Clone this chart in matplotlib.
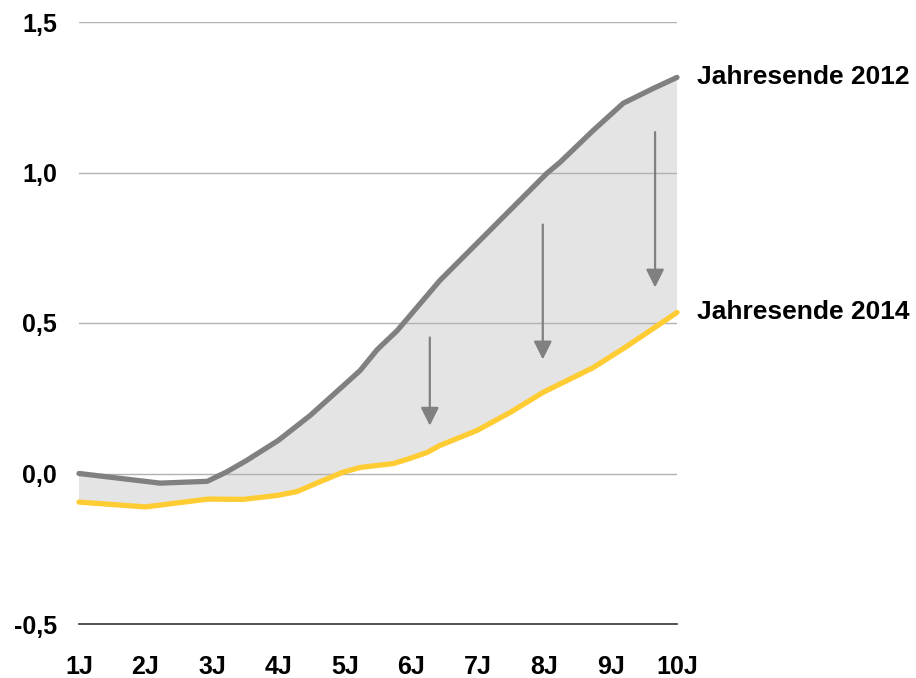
import matplotlib

matplotlib.use("Agg")
import matplotlib.pyplot as plt

plt.rcParams["font.family"] = ["Liberation Sans", "DejaVu Sans"]
plt.rcParams["font.weight"] = "bold"

# Laufzeit in Jahren und Renditen (%)
yrs_2012 = [1.0, 1.5, 2.22, 2.93, 3.22, 3.52, 4.0, 4.48, 5.0, 5.23, 5.49, 5.79,
            6.43, 8.04, 8.24, 8.74, 9.19, 9.64, 10.0]
val_2012 = [0.000, -0.013, -0.032, -0.026, 0.005, 0.043, 0.11, 0.193, 0.296,
            0.342, 0.412, 0.475, 0.641, 0.997, 1.034, 1.140, 1.230, 1.279, 1.316]

yrs_2014 = [1.0, 2.0, 2.94, 3.47, 3.98, 4.28, 4.63, 4.97, 5.23, 5.73, 5.98,
            6.24, 6.43, 6.99, 7.49, 7.98, 8.74, 9.22, 10.0]
val_2014 = [-0.095, -0.111, -0.085, -0.086, -0.073, -0.060, -0.027, 0.004, 0.020,
            0.033, 0.050, 0.070, 0.093, 0.143, 0.203, 0.269, 0.352, 0.419, 0.535]

# Pfeile: (x, Start, Spitze)
arrow_x = [6.28, 7.98, 9.67]
arrow_top = [0.452, 0.827, 1.134]
arrow_tip = [0.159, 0.379, 0.618]

xticks = list(range(1, 11))
xlabels = [f"{i}J" for i in xticks]
yticks = [-0.5, 0.0, 0.5, 1.0, 1.5]
ylabels = ["-0,5", "0,0", "0,5", "1,0", "1,5"]

GRAY = "#808080"
YELLOW = "#FFCC33"

fig = plt.figure(figsize=(9.16, 6.78), dpi=100)
ax = fig.add_axes([79 / 916, 54 / 678, 598 / 916, 602 / 678])

# Fläche zwischen den Kurven
poly_x = yrs_2012 + yrs_2014[::-1]
poly_y = val_2012 + val_2014[::-1]
ax.fill(poly_x, poly_y, color="#E4E4E4", lw=0, zorder=1)

for yv in yticks[1:]:
    ax.axhline(yv, color="#B2B2B2", lw=1.0, zorder=2)

ax.plot(yrs_2012, val_2012, color=GRAY, lw=3.8, solid_capstyle="round",
        solid_joinstyle="round", clip_on=False, zorder=4)
ax.plot(yrs_2014, val_2014, color=YELLOW, lw=3.8, solid_capstyle="round",
        solid_joinstyle="round", clip_on=False, zorder=4)

for xa, y0, y1 in zip(arrow_x, arrow_top, arrow_tip):
    ax.annotate("", xy=(xa, y1), xytext=(xa, y0),
                arrowprops=dict(arrowstyle="-|>,head_length=1.1,head_width=0.55",
                                color=GRAY, lw=1.6, shrinkA=0, shrinkB=0),
                zorder=3)

ax.text(10.3, val_2012[-1], "Jahresende 2012", fontsize=19, fontweight="bold",
        va="center", ha="left")
ax.text(10.3, val_2014[-1], "Jahresende 2014", fontsize=19, fontweight="bold",
        va="center", ha="left")

ax.set_xlim(1, 10)
ax.set_ylim(-0.5, 1.5)
ax.set_xticks(xticks)
ax.set_xticklabels(xlabels)
ax.set_yticks(yticks)
ax.set_yticklabels(ylabels)
ax.tick_params(axis="both", length=0, labelsize=18)
ax.tick_params(axis="x", pad=22)
ax.tick_params(axis="y", pad=16)
for s in ["top", "right", "left"]:
    ax.spines[s].set_visible(False)
ax.spines["bottom"].set_color("#333333")
ax.spines["bottom"].set_linewidth(1.2)

fig.savefig("out.png", dpi=100)
